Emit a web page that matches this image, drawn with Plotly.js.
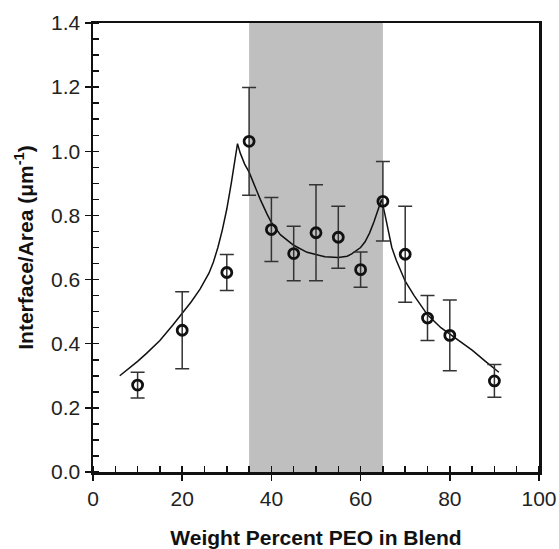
<!DOCTYPE html>
<html>
<head>
<meta charset="utf-8">
<script src="https://cdn.plot.ly/plotly-3.0.1.min.js"></script>
<style>html,body{margin:0;padding:0;background:#fff;}#chart{width:559px;height:549px;}</style>
</head>
<body>
<div id="chart"></div>
<script>
// Measured data points (weight percent PEO, interface/area in µm^-1)
const pointX = [10, 20, 30, 35, 40, 45, 50, 55, 60, 65, 70, 75, 80, 90];
const pointY = [0.271, 0.442, 0.622, 1.031, 0.756, 0.681, 0.746, 0.732, 0.631, 0.844, 0.679, 0.480, 0.426, 0.284];
const pointErr = [0.040, 0.120, 0.056, 0.168, 0.100, 0.085, 0.150, 0.097, 0.055, 0.124, 0.150, 0.070, 0.110, 0.051];

// Model curve
const curveX = [6, 8, 10, 12, 15, 18, 20, 22, 24, 26, 27, 28, 29, 30, 31, 32, 32.4, 33, 34, 35, 36, 37.5, 39, 40, 42, 45, 48, 50, 52, 55, 57, 58, 60, 61, 62, 63, 64, 64.7, 65.5, 67, 68, 70, 72, 75, 78, 80, 85, 88, 91];
const curveY = [0.300, 0.322, 0.345, 0.370, 0.410, 0.460, 0.494, 0.530, 0.570, 0.620, 0.655, 0.700, 0.755, 0.820, 0.900, 0.985, 1.024, 0.995, 0.960, 0.935, 0.900, 0.850, 0.805, 0.778, 0.740, 0.707, 0.685, 0.677, 0.671, 0.669, 0.673, 0.680, 0.700, 0.718, 0.745, 0.780, 0.823, 0.850, 0.800, 0.700, 0.660, 0.595, 0.550, 0.490, 0.450, 0.430, 0.380, 0.345, 0.311];

// Shaded composition range
const bandStart = 35;
const bandEnd = 65;

const tickFont = {family: 'Liberation Sans, Arial, sans-serif', size: 21, color: '#222'};
const titleFont = {family: 'Liberation Sans, Arial, sans-serif', size: 21, color: '#111', weight: 'bold'};

const traces = [
  {
    x: curveX, y: curveY, type: 'scatter', mode: 'lines',
    line: {color: '#111', width: 1.5}, hoverinfo: 'skip', showlegend: false
  },
  {
    x: pointX, y: pointY, type: 'scatter', mode: 'markers',
    error_y: {type: 'data', array: pointErr, visible: true, color: '#333', thickness: 1.5, width: 7},
    marker: {symbol: 'circle-open', size: 10, color: '#111', line: {width: 2.8, color: '#111'}},
    showlegend: false
  }
];

const layout = {
  width: 559, height: 549,
  margin: {l: 93, r: 20, t: 23, b: 77},
  paper_bgcolor: '#fff', plot_bgcolor: '#fff',
  showlegend: false,
  shapes: [{
    type: 'rect', xref: 'x', yref: 'paper', x0: bandStart, x1: bandEnd, y0: 0, y1: 1,
    fillcolor: '#bfbfbf', line: {width: 0}, layer: 'below'
  }],
  xaxis: {
    range: [0, 100], dtick: 20, tick0: 0,
    showgrid: false, zeroline: false,
    showline: true, linecolor: '#111', linewidth: 2.5, mirror: true,
    ticks: 'outside', ticklen: 6, tickwidth: 1.5, tickcolor: '#111',
    minor: {dtick: 5, ticks: 'inside', ticklen: 6, tickwidth: 1.5, tickcolor: '#111', showgrid: false},
    tickfont: tickFont,
    title: {text: 'Weight Percent PEO in Blend', font: titleFont, standoff: 22}
  },
  yaxis: {
    range: [0, 1.4], dtick: 0.2, tick0: 0, tickformat: '.1f',
    showgrid: false, zeroline: false,
    showline: true, linecolor: '#111', linewidth: 2.5, mirror: true,
    ticks: 'outside', ticklen: 6, tickwidth: 1.5, tickcolor: '#111',
    minor: {dtick: 0.05, ticks: 'inside', ticklen: 6, tickwidth: 1.5, tickcolor: '#111', showgrid: false},
    tickfont: tickFont,
    title: {text: 'Interface/Area (μm<sup>-1</sup>)', font: titleFont, standoff: 12}
  }
};

Plotly.newPlot('chart', traces, layout, {displayModeBar: false, staticPlot: true});
</script>
</body>
</html>
